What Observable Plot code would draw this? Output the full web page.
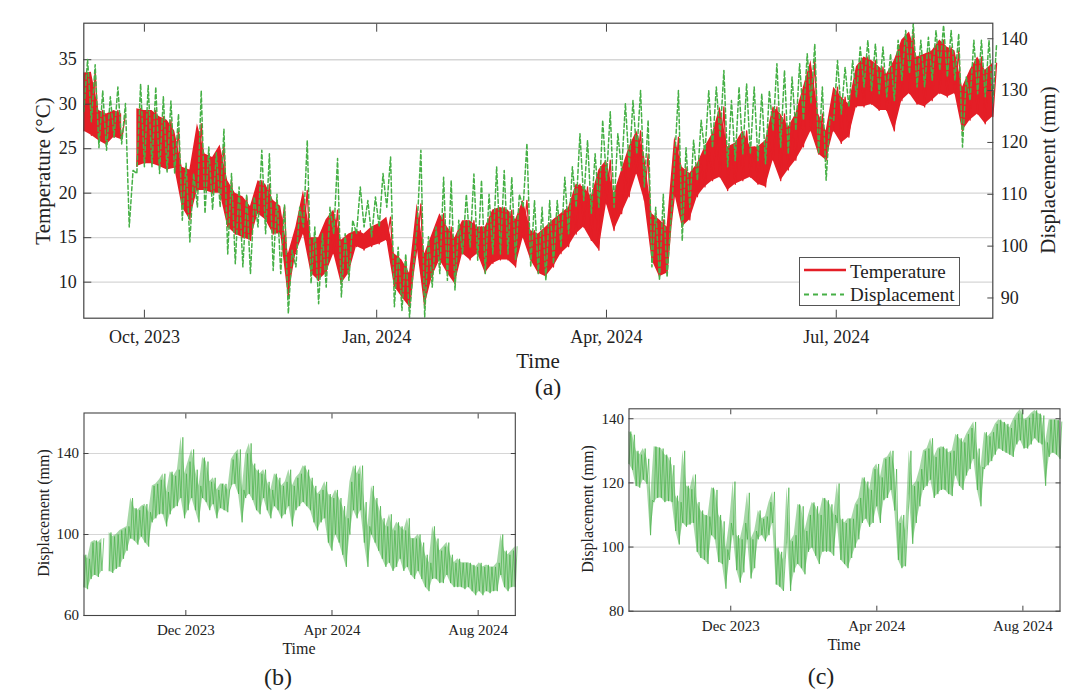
<!DOCTYPE html>
<html><head><meta charset="utf-8">
<script src="https://cdn.jsdelivr.net/npm/d3@7"></script>
<script src="https://cdn.jsdelivr.net/npm/@observablehq/plot@0.6"></script>
<style>
body{margin:0;background:#fff;font-family:'Liberation Serif',serif;color:#222;}
#root{position:relative;width:1080px;height:697px;overflow:hidden;background:#fff;font-family:'Liberation Serif',serif;}
#root svg, #root svg text{font-family:'Liberation Serif',serif !important;}
.abs{position:absolute;}
.lbl{position:absolute;transform:translate(-50%,-50%);white-space:nowrap;color:#222;line-height:1;font-family:'Liberation Serif',serif;}
.rot{transform:translate(-50%,-50%) rotate(-90deg);}
</style></head><body>
<div id="root">
  <div id="topT" class="abs" style="left:0;top:0"></div>
  <div id="topD" class="abs" style="left:0;top:0"></div>
  <div id="legend" class="abs" style="left:799px;top:257px;width:161px;height:49px;box-sizing:border-box;border:1px solid #555;background:#fff;"></div>
  <div class="lbl rot" style="left:43px;top:171px;font-size:21px">Temperature (°C)</div>
  <div class="lbl rot" style="left:1048px;top:170px;font-size:21px">Displacement (mm)</div>
  <div class="lbl" style="left:538px;top:361px;font-size:21px">Time</div>
  <div class="lbl" style="left:548px;top:387px;font-size:24px">(a)</div>
  <div id="pb" class="abs" style="left:0;top:400px"></div>
  <div id="pc" class="abs" style="left:540px;top:400px"></div>
  <div class="lbl rot" style="left:44px;top:513px;font-size:16px">Displacement (mm)</div>
  <div class="lbl" style="left:299px;top:649px;font-size:16px">Time</div>
  <div class="lbl" style="left:278px;top:677px;font-size:24px">(b)</div>
  <div class="lbl rot" style="left:588px;top:509px;font-size:16px">Displacement (mm)</div>
  <div class="lbl" style="left:844px;top:645px;font-size:16px">Time</div>
  <div class="lbl" style="left:821px;top:676px;font-size:24px">(c)</div>
</div>
<script>
// ---- data (one sample every 3 days from 2023-09-07; low / high of the daily swing) ----
const startDate = "2023-09-07";
const endDate = "2024-09-01";
const stepDays = 3;

const temperatureLow = [
  27, 26.5, 25.9, 25.4, 26.3, 26, null, 23, 23.3, 23.3,
  23, 22.6, 22.8, 18.4, 17, 20.3, 20.3, 20, 20, 16.2,
  15.4, 15, 14.7, 17.7, 17, 15.4, 15.4, 8.3, 13.2, 15.4,
  11, 10.2, 11, 13.2, 9.8, 11, 14, 13.6, 14, 14.3,
  14.7, 9.5, 8.3, 7.2, 14, 7.2, 10.6, 12.5, 11, 9.8,
  13.2, 12.5, 13.2, 11, 12.1, 12.5, 12.5, 11.7, 15, 12.5,
  11, 10.6, 11.7, 13.2, 14, 15.4, 16.2, 14.7, 13.6, 18.8,
  15.8, 17.7, 19.6, 22.2, 19.2, 12.5, 10.6, 11, 20, 16.2,
  17, 19.6, 20.7, 21.4, 21.8, 20.3, 21, 21.4, 21.8, 21,
  20.7, 23.7, 21.4, 22.6, 23.7, 25.2, 27, 24.4, 23.7, 27,
  25.6, 26.3, 29.7, 29.7, 30, 29.3, 29.3, 27, 30.4, 31.2,
  30, 29.7, 30.4, 31.2, 30.8, 31.2, 27, 28.2, 28.9, 27.8,
  28.6
];
const temperatureHigh = [
  33.5, 33.6, 29.3, 28.9, 29.3, 28.9, null, 29.5, 29.3, 29.3,
  28.6, 28.2, 27, 22.9, 22.6, 27.8, 24.4, 24, 25.4, 21.4,
  20, 19.6, 18.5, 21.4, 21, 19.2, 18.5, 13.2, 16.2, 20.3,
  15, 15, 17, 18.1, 14.7, 15.4, 15.8, 15.4, 16.2, 16.6,
  17.3, 13.2, 12.5, 11, 18.8, 13.2, 15.4, 17.7, 16.2, 15,
  16.9, 16.9, 16.2, 16.2, 18.1, 18.4, 18.1, 17, 19.2, 15.8,
  15.4, 16.2, 17, 17.7, 18.4, 21, 20.7, 19.6, 22.6, 23.7,
  19.9, 22.6, 25.2, 27, 24.4, 17.7, 17, 16.2, 26.3, 22.9,
  22.2, 23.3, 25.2, 26.7, 29.7, 25.2, 25.6, 27, 25.2, 25.2,
  25.9, 29.7, 28.9, 27.4, 28.9, 31.9, 34.9, 28.9, 27, 31.9,
  30.8, 30, 34.2, 35.3, 34.9, 34.2, 33.4, 34.9, 37.2, 38.1,
  35.3, 35.6, 36, 37.2, 36.4, 36, 31.9, 33.8, 35.3, 33.8,
  34.6
];
// displacement shown in (a) and (c)
const displacementLow = [
  126, 124, 119, 118.5, 121, 119.7, 103.7, 114, 115.3, 115.3,
  114, 114.3, 114, 105, 100.8, 107.5, 106.3, 107, 107.5, 98.5,
  96.6, 96, 94.7, 103.7, 102.4, 95.3, 94.7, 87, 96, 103.7,
  92.8, 88.9, 92.1, 102.4, 90.2, 93.4, 102.4, 103.7, 101.8, 103.7,
  107.5, 88.3, 87.6, 86.3, 103.7, 86.3, 92.1, 94.7, 93.4, 91.5,
  98.5, 99.8, 97.3, 94.7, 98.5, 98.5, 98.5, 97.3, 107.5, 96,
  94.7, 93.4, 96.6, 99.8, 102.4, 107.5, 108.8, 106.3, 107.5, 112.7,
  107.5, 114.6, 115.3, 117.8, 111.4, 96, 93.4, 94, 116.5, 101,
  107.5, 112.7, 117.8, 119, 121, 115.3, 116.5, 117.8, 117.8, 116.5,
  115.9, 122.3, 119.1, 117.8, 122.3, 124.3, 127.5, 117.8, 112.7, 124.3,
  125.5, 126.8, 128.8, 130.7, 130, 129.4, 128.8, 128.1, 132, 133.3,
  130.7, 130.7, 132, 133.9, 132.6, 132, 119.1, 128.1, 129.4, 128.8,
  127.5
];
const displacementHigh = [
  136, 135, 130, 128.8, 130.7, 127.5, 114.6, 131.3, 131, 130.7,
  128.8, 128, 125.5, 116, 114, 130, 119.1, 118, 122.6, 114,
  111.4, 110, 109.5, 118.5, 117.8, 110, 108, 99.2, 107.5, 120.4,
  103.7, 102.4, 107.5, 116.9, 102.4, 105, 111.4, 108.8, 109.5, 114,
  117.2, 99.8, 98.5, 96, 118.5, 101.8, 103.7, 113.3, 112.7, 105,
  110, 113.9, 112.7, 110, 115.3, 114.6, 113.3, 110, 119.8, 108.8,
  107.5, 108.8, 108.8, 113.3, 115.3, 121.7, 120.4, 117.8, 124.3, 125.9,
  121.7, 127.5, 128.1, 130, 124.3, 107.5, 110, 105, 130, 119,
  120.4, 124.3, 130, 130.7, 133.9, 128.1, 130.7, 131.3, 130.7, 129.4,
  130, 135.2, 133.9, 132.6, 135.2, 137.1, 139, 130.7, 124.9, 135.8,
  134.5, 135.8, 138.4, 139.7, 139, 138.4, 137.1, 139.7, 141.6, 142.9,
  139.7, 140.3, 141.6, 142.6, 141.6, 141, 132.6, 139.7, 139.7, 139.7,
  139
];
// displacement shown in (b)
const displacementBLow = [
  74, 73, 78, 80, 79, 82, null, 82, 81, 83,
  84, 88, 92, 98, 97, 95, 99, 96, 94, 106,
  108, 110, 110, 104, 110, 113, 114, 118, 108, 112,
  118, 112, 106, 118, 116, 112, 115, 108, 113, 112,
  111, 124, 125, 120, 106, 118, 120, 117, 112, 110,
  118, 112, 108, 114, 112, 108, 110, 114, 104, 112,
  114, 116, 114, 112, 106, 102, 106, 108, 96, 92,
  100, 96, 90, 84, 100, 112, 108, 112, 96, 84,
  100, 96, 92, 88, 84, 86, 82, 84, 88, 82,
  84, 80, 78, 82, 78, 74, 72, 78, 78, 76,
  76, 80, 76, 74, 74, 74, 73, 74, 72, 70,
  72, 70, 72, 71, 72, 72, 80, 74, 72, 74,
  74
];
const displacementBHigh = [
  90, 88, 96, 97, 96, 98, null, 101, 99, 100,
  102, 103, 104, 118, 113, 112, 114, 115, 111, 124,
  125, 127, 130, 121, 131, 129, 132, 148, 130, 136,
  142, 132, 124, 138, 136, 126, 128, 122, 125, 125,
  122, 137, 140, 142, 122, 140, 145, 135, 132, 130,
  132, 126, 122, 130, 128, 124, 126, 132, 124, 128,
  130, 134, 132, 128, 124, 120, 122, 126, 120, 118,
  122, 118, 114, 108, 126, 134, 130, 134, 116, 104,
  124, 118, 114, 108, 104, 110, 102, 106, 104, 102,
  108, 98, 98, 100, 96, 90, 86, 104, 98, 92,
  94, 96, 90, 86, 88, 86, 86, 86, 85, 84,
  86, 84, 85, 84, 84, 86, 100, 92, 90, 92,
  94
];
const topTickDates = ["2023-10-01", "2024-01-01", "2024-04-01", "2024-07-01"];
const bottomTickDates = ["2023-12-01", "2024-04-01", "2024-08-01"];
const temperatureTicks = [10, 15, 20, 25, 30, 35];
const displacementTicksA = [90, 100, 110, 120, 130, 140];
const displacementTicksB = [60, 100, 140];
const displacementTicksC = [80, 100, 120, 140];

// ---- helpers ----
const parse = s => new Date(s + "T00:00:00Z");
const t0 = parse(startDate);
const xDomain = [t0, parse(endDate)];
const dayOf = i => d3.utcDay.offset(t0, i * stepDays);
const num = v => (v == null ? NaN : v);
const band = (lo, hi) => lo.map((v, i) => ({t: dayOf(i), lo: num(v), hi: num(hi[i])}));
const zigzag = (lo, hi) => lo.flatMap((v, i) => [
  {t: dayOf(i), v: num(v)},
  {t: d3.utcHour.offset(dayOf(i), stepDays * 12), v: num(hi[i])}
]);
const topTicks = topTickDates.map(parse);
const bottomTicks = bottomTickDates.map(parse);
const FONT = "Liberation Serif";
const RED = "#e41e26", GREEN = "#46b046", GREEN2 = "#5cb85c", AX = "#444", GRID = "#d6d6d6";
const blank = () => "";

// ---- (a) temperature layer ----
const topT = Plot.plot({
  width: 1080, height: 345,
  marginLeft: 83.3, marginRight: 87.7, marginTop: 22.7, marginBottom: 27.3,
  x: {type: "utc", domain: xDomain},
  y: {domain: [5.95, 39.1]},
  style: {fontFamily: FONT, fontSize: "18px", color: "#222", background: "transparent", overflow: "visible"},
  marks: [
    Plot.gridY(temperatureTicks, {stroke: GRID, strokeOpacity: 1, strokeWidth: 1.4}),
    Plot.areaY(band(temperatureLow, temperatureHigh), {x: "t", y1: "lo", y2: "hi", fill: RED}),
    Plot.line(zigzag(temperatureLow, temperatureHigh), {x: "t", y: "v", stroke: RED, strokeWidth: 1.3}),
    Plot.axisY(temperatureTicks, {anchor: "left", tickSize: 0, tickPadding: 7, label: null, fontFamily: FONT}),
    Plot.axisY(temperatureTicks, {anchor: "left", tickSize: -8, tickFormat: blank, label: null, stroke: AX}),
    Plot.axisX(topTicks, {anchor: "bottom", tickSize: 0, tickPadding: 12, tickFormat: d3.utcFormat("%b, %Y"), label: null, fontFamily: FONT}),
    Plot.axisX(topTicks, {anchor: "bottom", tickSize: -8, tickFormat: blank, label: null, stroke: AX}),
    Plot.axisX(topTicks, {anchor: "top", tickSize: -8, tickFormat: blank, label: null, stroke: AX})
  ]
});
document.getElementById("topT").appendChild(topT);

// ---- (a) displacement layer (right axis) ----
const topD = Plot.plot({
  width: 1080, height: 345,
  marginLeft: 83.3, marginRight: 87.7, marginTop: 22.7, marginBottom: 27.3,
  x: {type: "utc", domain: xDomain, axis: null},
  y: {domain: [86.1, 143.0]},
  style: {fontFamily: FONT, fontSize: "18px", color: "#222", background: "transparent", overflow: "visible"},
  marks: [
    Plot.line(zigzag(displacementLow, displacementHigh), {x: "t", y: "v", stroke: GREEN, strokeWidth: 1.5, strokeDasharray: "4,2.5"}),
    Plot.axisY(displacementTicksA, {anchor: "right", tickSize: 0, tickPadding: 8, label: null, fontFamily: FONT}),
    Plot.axisY(displacementTicksA, {anchor: "right", tickSize: -6, tickFormat: blank, label: null, stroke: AX}),
    Plot.frame({stroke: AX, strokeWidth: 1.2})
  ]
});
document.getElementById("topD").appendChild(topD);

// ---- legend ----
document.getElementById("legend").innerHTML =
  `<svg width="159" height="47" style="display:block">
     <line x1="4" x2="46" y1="12" y2="12" stroke="${RED}" stroke-width="2.6"/>
     <line x1="4" x2="44" y1="36.5" y2="36.5" stroke="${GREEN}" stroke-width="1.8" stroke-dasharray="5,4"/>
     <text x="50" y="13" dominant-baseline="central" font-size="19" font-family="Liberation Serif" fill="#222">Temperature</text>
     <text x="50" y="36.5" dominant-baseline="central" font-size="19" font-family="Liberation Serif" fill="#222">Displacement</text>
   </svg>`;

// ---- bottom panels ----
function bottomPanel(lo, hi, yDomain, yTicks, m) {
  return Plot.plot({
    width: 540, height: 240,
    marginLeft: m[0], marginRight: m[1], marginTop: m[2], marginBottom: m[3],
    x: {type: "utc", domain: xDomain},
    y: {domain: yDomain},
    style: {fontFamily: FONT, fontSize: "15px", color: "#222", background: "transparent", overflow: "visible"},
    marks: [
      Plot.gridY(yTicks.filter(v => v > yDomain[0]), {stroke: GRID, strokeOpacity: 1, strokeWidth: 1.2}),
      Plot.areaY(band(lo, hi), {x: "t", y1: "lo", y2: "hi", fill: GREEN2, fillOpacity: 0.55}),
      Plot.line(zigzag(lo, hi), {x: "t", y: "v", stroke: GREEN, strokeWidth: 0.8, strokeOpacity: 0.85}),
      Plot.axisY(yTicks, {anchor: "left", tickSize: 0, tickPadding: 5, label: null, fontFamily: FONT}),
      Plot.axisY(yTicks, {anchor: "left", tickSize: -5, tickFormat: blank, label: null, stroke: AX}),
      Plot.axisY(yTicks, {anchor: "right", tickSize: -5, tickFormat: blank, label: null, stroke: AX}),
      Plot.axisX(bottomTicks, {anchor: "bottom", tickSize: 0, tickPadding: 9, tickFormat: d3.utcFormat("%b %Y"), label: null, fontFamily: FONT}),
      Plot.axisX(bottomTicks, {anchor: "bottom", tickSize: -5, tickFormat: blank, label: null, stroke: AX}),
      Plot.axisX(bottomTicks, {anchor: "top", tickSize: -5, tickFormat: blank, label: null, stroke: AX}),
      Plot.frame({stroke: AX, strokeWidth: 1.1})
    ]
  });
}
document.getElementById("pb").appendChild(
  bottomPanel(displacementBLow, displacementBHigh, [60, 160], displacementTicksB, [83.5, 25.2, 12.5, 25]));
document.getElementById("pc").appendChild(
  bottomPanel(displacementLow, displacementHigh, [80, 143.1], displacementTicksC, [88.5, 20.5, 8.3, 29.3]));
</script>
</body></html>
